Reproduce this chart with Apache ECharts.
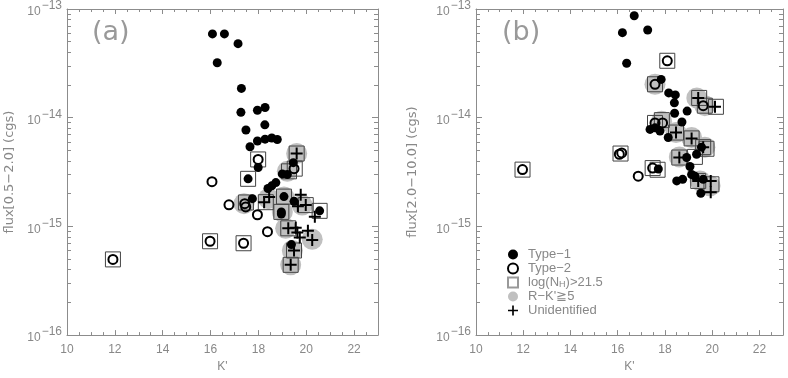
<!DOCTYPE html>
<html>
<head>
<meta charset="utf-8">
<script src="https://cdn.jsdelivr.net/npm/echarts@6/dist/echarts.min.js"></script>
<style>
html, body { margin: 0; background: #fff; }
#chart { width: 788px; height: 378px; }
</style>
</head>
<body>
<div id="chart"></div>
<script>
/* 面板 (a)：flux[0.5-2.0] 對 K' */
const type1A = [[16.08,5.9e-14],[16.58,5.9e-14],[17.15,4.8e-14],[16.28,3.2e-14],[17.29,1.86e-14],[17.27,1.12e-14],[17.96,1.17e-14],[18.28,1.24e-14],[18.27,8.6e-15],[17.48,7.7e-15],[17.65,5.4e-15],[17.96,6.1e-15],[18.28,6.35e-15],[18.56,6.5e-15],[18.79,6.3e-15],[19.46,3.86e-15],[17.99,3.48e-15],[17.57,2.74e-15],[19.0,3.04e-15],[19.21,3.0e-15],[18.73,2.53e-15],[18.56,2.36e-15],[18.4,2.23e-15],[17.75,1.8e-15],[19.07,1.88e-15],[19.49,1.7e-15],[18.96,1.36e-15],[18.96,1.3e-15],[20.56,1.39e-15],[19.38,6.8e-16]];
const type2A = [[11.92,4.97e-16],[15.98,7.3e-16],[17.38,7.0e-16],[16.06,2.58e-15],[16.77,1.58e-15],[17.43,1.62e-15],[17.47,1.51e-15],[17.96,1.28e-15],[18.38,8.95e-16],[17.99,4.13e-15],[19.49,3.4e-15]];
const nhA = [[11.92,4.97e-16],[15.98,7.3e-16],[17.38,7.0e-16],[17.99,4.13e-15],[17.57,2.74e-15],[17.48,1.66e-15],[18.31,1.67e-15],[19.07,1.88e-15],[19.98,1.57e-15],[20.56,1.39e-15],[18.96,1.36e-15],[19.25,9.6e-16],[19.49,6.0e-16],[19.35,4.43e-16],[19.6,4.68e-15],[19.28,3.21e-15],[19.52,3.4e-15]];
const rkA = [[19.6,4.68e-15],[19.21,3.21e-15],[17.4,1.62e-15],[18.42,1.8e-15],[19.07,1.86e-15],[19.83,1.57e-15],[19.0,1.36e-15],[19.14,9.6e-16],[20.25,7.6e-16],[19.42,6.0e-16],[19.35,4.43e-16]];
const unidA = [[19.6,4.68e-15],[19.77,1.95e-15],[19.65,1.53e-15],[19.98,1.57e-15],[20.36,1.23e-15],[18.45,1.86e-15],[18.24,1.67e-15],[19.25,9.6e-16],[19.56,9.7e-16],[19.63,8.8e-16],[20.07,9.1e-16],[20.25,7.5e-16],[19.73,7.9e-16],[19.49,6.0e-16],[19.35,4.43e-16]];

/* 面板 (b)：flux[2.0-10.0] 對 K' */
const type1B = [[16.7,8.67e-14],[16.2,6.06e-14],[17.27,6.41e-14],[16.38,3.17e-14],[17.84,2.25e-14],[18.16,1.69e-14],[18.44,1.62e-14],[18.4,1.37e-14],[18.41,1.1e-14],[18.94,1.15e-14],[18.72,9.14e-15],[17.37,7.8e-15],[17.58,8.07e-15],[17.79,7.55e-15],[18.14,6.58e-15],[19.55,5.36e-15],[18.92,4.3e-15],[19.34,4.61e-15],[19.06,3.56e-15],[19.13,3.0e-15],[19.27,2.9e-15],[18.5,2.62e-15],[18.75,2.71e-15],[19.52,2.02e-15],[17.72,3.37e-15],[19.62,2.71e-15]];
const type2B = [[11.97,3.33e-15],[16.07,4.61e-15],[16.17,4.74e-15],[16.87,2.9e-15],[17.48,3.44e-15],[17.58,8.95e-15],[17.9,8.95e-15],[17.58,2.03e-14],[19.62,1.29e-14],[18.1,3.34e-14]];
const nhB = [[11.97,3.33e-15],[16.12,4.68e-15],[17.48,3.44e-15],[17.69,3.32e-15],[18.1,3.34e-14],[17.58,2.03e-14],[17.58,8.95e-15],[17.87,9.5e-15],[18.47,7.3e-15],[19.13,6.45e-15],[19.62,5.36e-15],[19.76,5.18e-15],[18.61,4.3e-15],[19.27,4.36e-15],[19.41,2.62e-15],[19.97,2.44e-15],[19.45,1.52e-14],[19.69,1.29e-14],[20.16,1.26e-14]];
const rkB = [[17.58,2.03e-14],[17.86,9.27e-15],[18.47,7.3e-15],[19.13,6.58e-15],[19.69,5.36e-15],[18.61,4.36e-15],[19.49,2.62e-15],[19.91,2.36e-15],[19.35,1.52e-14],[19.69,1.29e-14]];
const unidB = [[19.41,1.52e-14],[20.12,1.26e-14],[18.47,7.3e-15],[19.13,6.45e-15],[19.62,5.36e-15],[18.61,4.3e-15],[19.41,2.62e-15],[19.94,2.62e-15],[19.94,2.06e-15]];

/* 刻度與文字 */
const xMajor = [10, 12, 14, 16, 18, 20, 22];
const xMinor = [];
for (let v = 10; v <= 23; v += 0.5) xMinor.push(v);
const yMinor = [];
for (let e = -16; e < -13; e++) for (let k = 2; k < 10; k++) yMinor.push(e + Math.log10(k));
const yNames = ["flux[0.5\u22122.0] (cgs)", "flux[2.0\u221210.0] (cgs)"];
const panelTags = ["(a)", "(b)"];
const names = ["Type\u22121", "Type\u22122", "log(N_H)>21.5", "R\u2212K'\u22675", "Unidentified"];

const lineColor = "#8c8c8c";
const textColor = "#888";
const font = "Liberation Sans";
const plusPath = "path://M5,0H7V5H12V7H7V12H5V7H0V5H5Z";

const grids = [
	{ left: 67, top: 7, width: 311, height: 337 },
	{ left: 476, top: 7, width: 307, height: 337 },
];
const nameGaps = [51, 57];

const xAxes = [];
const yAxes = [];
grids.forEach((g, i) => {
	["bottom", "top"].forEach((pos) => {
		xAxes.push({
			gridIndex: i, type: "value", min: 10, max: 23, position: pos,
			axisLine: { show: true, onZero: false, lineStyle: { color: lineColor } },
			axisTick: { inside: true, length: 5, customValues: xMajor, lineStyle: { color: lineColor } },
			axisLabel: { show: pos === "bottom", customValues: xMajor, margin: 9, color: textColor, fontSize: 12, fontFamily: font },
			splitLine: { show: false },
			name: pos === "bottom" ? "K'" : "",
			nameLocation: "middle", nameGap: 23,
			nameTextStyle: { color: textColor, fontSize: 12, fontFamily: font },
		});
		xAxes.push({
			gridIndex: i, type: "value", min: 10, max: 23, position: pos,
			axisLine: { show: false },
			axisTick: { inside: true, length: 3, customValues: xMinor, lineStyle: { color: lineColor } },
			axisLabel: { show: false },
			splitLine: { show: false },
		});
	});
	["left", "right"].forEach((pos) => {
		yAxes.push({
			gridIndex: i, type: "log", logBase: 10, min: 1e-16, max: 1e-13, position: pos,
			axisLine: { show: true, onZero: false, lineStyle: { color: lineColor } },
			axisTick: { inside: true, length: 6, lineStyle: { color: lineColor } },
			axisLabel: {
				show: pos === "left", margin: 5,
				formatter: (v) => "{b|10}{s|\u2212" + Math.abs(Math.round(Math.log10(v))) + "}",
				rich: {
					b: { fontSize: 12, fontFamily: font, color: textColor, lineHeight: 12, padding: [6, 0, 0, 0] },
					s: { fontSize: 12, fontFamily: font, color: textColor, lineHeight: 12, padding: [0, 0, 6, 1] },
				},
			},
			splitLine: { show: false },
			name: pos === "left" ? yNames[i] : "",
			nameLocation: "middle", nameGap: nameGaps[i],
			nameTextStyle: { color: textColor, fontSize: 13, fontFamily: "DejaVu Sans" },
		});
		yAxes.push({
			gridIndex: i, type: "value", min: -16, max: -13, position: pos,
			axisLine: { show: false },
			axisTick: { inside: true, length: 4, customValues: yMinor, lineStyle: { color: lineColor } },
			axisLabel: { show: false },
			splitLine: { show: false },
		});
	});
});

/* 每個面板的五組散點 */
function panelSeries(i, t1, t2, nh, rk, un) {
	const base = { type: "scatter", xAxisIndex: i * 4, yAxisIndex: i * 4, emphasis: { disabled: true } };
	return [
		Object.assign({}, base, { name: names[3], data: rk, symbol: "circle", symbolSize: 21, itemStyle: { color: "#c0c0c0", opacity: 1 }, z: 1 }),
		Object.assign({}, base, { name: names[2], data: nh, symbol: "rect", symbolSize: 15, itemStyle: { color: "rgba(0,0,0,0)", borderColor: "#444", borderWidth: 1, opacity: 1 }, z: 2 }),
		Object.assign({}, base, { name: names[0], data: t1, symbol: "circle", symbolSize: 9, itemStyle: { color: "#000", opacity: 1 }, z: 3 }),
		Object.assign({}, base, { name: names[1], data: t2, symbol: "circle", symbolSize: 9, itemStyle: { color: "rgba(0,0,0,0)", borderColor: "#000", borderWidth: 2, opacity: 1 }, z: 4 }),
		Object.assign({}, base, { name: names[4], data: un, symbol: plusPath, symbolSize: 12, itemStyle: { color: "#000", opacity: 1 }, z: 5 }),
	];
}

const chart = echarts.init(document.getElementById("chart"), null, { renderer: "canvas" });
chart.setOption({
	animation: false,
	backgroundColor: "#fff",
	title: panelTags.map((t, i) => ({
		text: t, left: [87, 497][i], top: 14,
		textStyle: { fontSize: 27, fontWeight: "normal", color: "#999", fontFamily: "DejaVu Sans ExtraLight, DejaVu Sans" },
	})),
	grid: grids,
	xAxis: xAxes,
	yAxis: yAxes,
	legend: {
		data: [
			{ name: names[0], icon: "circle" },
			{ name: names[1], icon: "circle" },
			{ name: names[2], icon: "rect", itemStyle: { borderColor: "#999" } },
			{ name: names[3], icon: "circle" },
			{ name: names[4], icon: plusPath },
		],
		orient: "vertical", left: 502, top: 243,
		itemWidth: 10, itemHeight: 10, itemGap: 1,
		selectedMode: false,
		formatter: (n) => (n === names[2] ? "log(N{sub|H})>21.5" : n),
		textStyle: {
			color: textColor, fontSize: 13, fontFamily: font, lineHeight: 13, padding: [0, 0, 0, 5],
			rich: { sub: { fontSize: 9, color: textColor, fontFamily: font, lineHeight: 9, padding: [4, 0, 0, 0] } },
		},
	},
	series: [].concat(
		panelSeries(0, type1A, type2A, nhA, rkA, unidA),
		panelSeries(1, type1B, type2B, nhB, rkB, unidB)
	),
});
</script>
</body>
</html>
